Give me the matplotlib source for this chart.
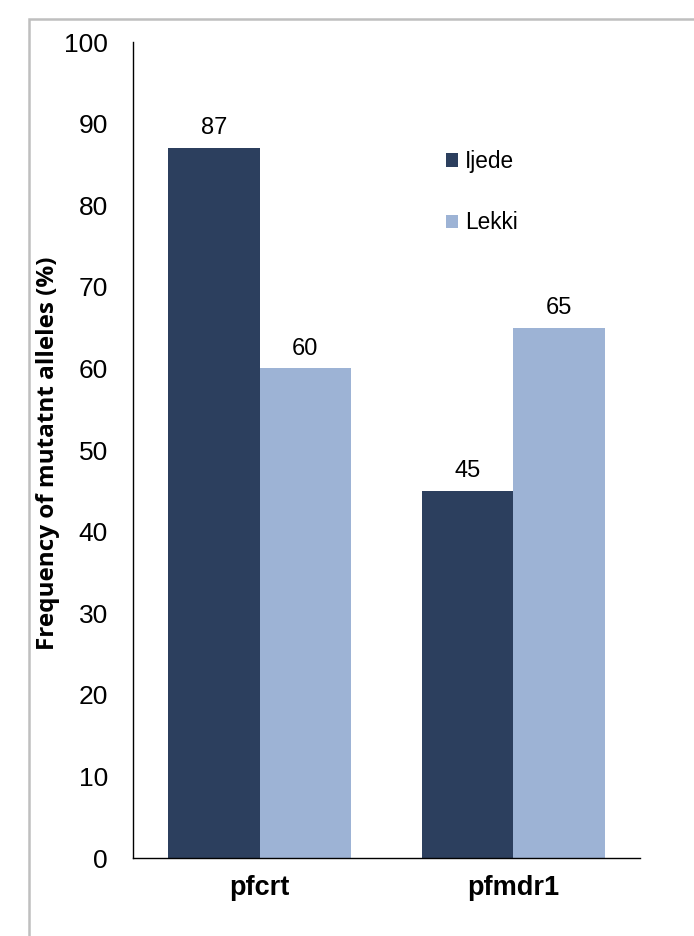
import matplotlib
matplotlib.use("Agg")
import matplotlib.pyplot as plt
from matplotlib.patches import Patch, Rectangle
import numpy as np

categories = ["pfcrt", "pfmdr1"]
series_names = ["Ijede", "Lekki"]
ijede = [87, 45]
lekki = [60, 65]
yticks = [0, 10, 20, 30, 40, 50, 60, 70, 80, 90, 100]

colors = ["#2C3F5E", "#9DB3D5"]

W, H = 694, 936
fig = plt.figure(figsize=(W / 100, H / 100), dpi=100)

# figure border (gray, left and top)
fig.patches.append(Rectangle((29 / W, -0.1), 1.2, 1 - 19 / H + 0.1, transform=fig.transFigure,
                             fill=False, edgecolor="#BFBFBF", linewidth=1.8))

ax = fig.add_axes([133 / W, 1 - 858 / H, (640 - 133) / W, (858 - 42) / H])

x = np.arange(len(categories))
bw = 0.36
vals = [ijede, lekki]
for i, (name, v) in enumerate(zip(series_names, vals)):
    pos = x + (i - 0.5) * bw
    bars = ax.bar(pos, v, width=bw, color=colors[i], label=name)
    for b, val in zip(bars, v):
        ax.annotate(str(val), (b.get_x() + b.get_width() / 2, val), xytext=(0, 10),
                    textcoords="offset points", ha="center", va="baseline",
                    fontsize=17, family="Liberation Sans")

ax.set_xlim(-0.5, 1.5)
ax.set_ylim(0, 100)
ax.set_yticks(yticks)
ax.set_yticklabels([str(t) for t in yticks], fontsize=19, family="Liberation Sans")
ax.set_xticks(x)
ax.set_xticklabels(categories, fontsize=19.5, fontweight="bold", family="Liberation Sans")
ax.tick_params(axis="both", length=0)
ax.tick_params(axis="y", pad=18)
ax.tick_params(axis="x", pad=12)
for s in ["top", "right"]:
    ax.spines[s].set_visible(False)
for s in ["left", "bottom"]:
    ax.spines[s].set_linewidth(1.0)
    ax.spines[s].set_color("black")

fig.text(48 / W, 1 - 453 / H, "Frequency of mutatnt alleles (%)", rotation=90,
         ha="center", va="center", fontsize=17.5, fontweight="bold", family="Open Sans")

handles = [Patch(facecolor=c, edgecolor="none") for c in colors]
leg = fig.legend(handles, series_names, loc="upper left", bbox_to_anchor=(446 / W, 1 - 150 / H),
                 frameon=False, handlelength=0.55, handleheight=0.55, handletextpad=0.3,
                 labelspacing=1.7, borderpad=0, borderaxespad=0,
                 prop={"family": "Liberation Sans", "size": 16.3})

fig.savefig("out.png", dpi=100)
